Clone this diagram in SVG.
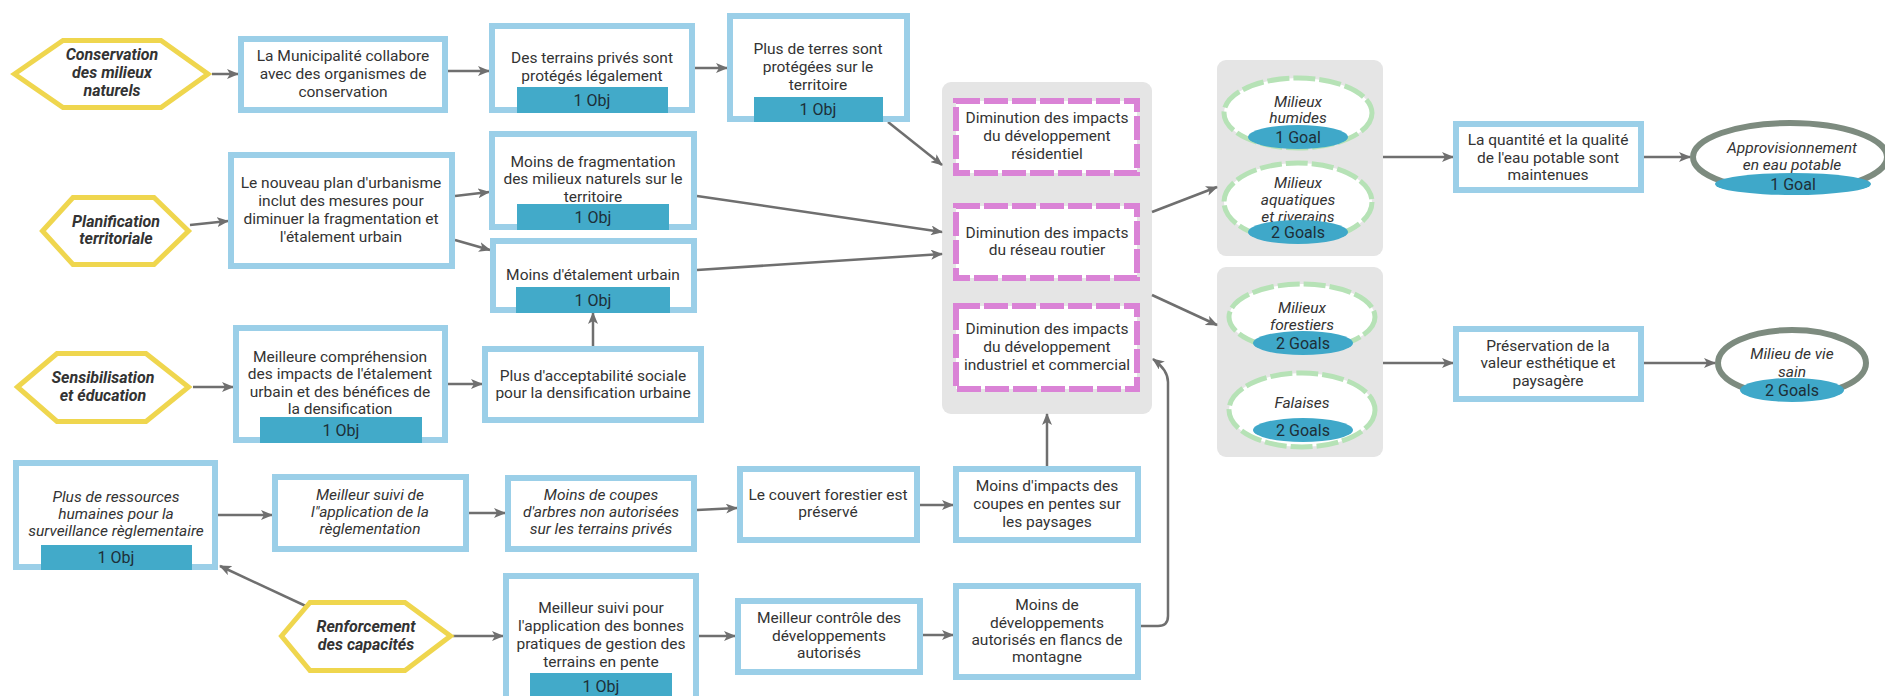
<svg xmlns="http://www.w3.org/2000/svg" width="1885" height="696" viewBox="0 0 1885 696">
<defs>
<marker id="ah" viewBox="0 0 12 10" refX="11" refY="5" markerWidth="12" markerHeight="10" markerUnits="userSpaceOnUse" orient="auto">
<path d="M0,0 L12,5 L0,10 L3,5 z" fill="#6f6f6f"/>
</marker>
<style>
text{font-family:Roboto,"Liberation Sans",sans-serif;font-size:15.5px;fill:#333;text-anchor:middle}
.it{font-style:italic}
.bi{font-style:italic;font-weight:bold;font-size:16px}
.box{fill:#fff;stroke:#9BCFE8;stroke-width:6}
.obj{fill:#42AAC9}
.hex{fill:#fff;stroke:#EFD64E;stroke-width:5}
.cont{fill:#E5E5E5}
.pink{fill:#fff;stroke:#DA83D6;stroke-width:6;stroke-dasharray:24 4}
.eco{fill:#fff;stroke:#B6E2B6;stroke-width:5;stroke-dasharray:22 4}
.goal{fill:#fff;stroke:#7D8B7F;stroke-width:6}
.gl{fill:#3FA8C9}
.lbl{fill:#1d2f38;font-size:16px}
.c{fill:none;stroke:#6f6f6f;stroke-width:2.5;marker-end:url(#ah)}
</style>
</defs>
<rect width="1885" height="696" fill="#fff"/>

<g id="containers">
<rect id="grp-pressures" class="cont" x="942" y="82" width="210" height="332" rx="9"/>
<rect id="grp-eau" class="cont" x="1217" y="60" width="166" height="196" rx="9"/>
<rect id="grp-paysage" class="cont" x="1217" y="267" width="166" height="190" rx="9"/>
</g>

<g id="connectors">
<path class="c" d="M212,74 L238,74"/>
<path class="c" d="M448,71 L489,71"/>
<path class="c" d="M695,68 L727,68"/>
<path class="c" d="M888,122 L942,165"/>
<path class="c" d="M190,225 L228,221"/>
<path class="c" d="M455,196 L489,192"/>
<path class="c" d="M455,240 L490,250"/>
<path class="c" d="M697,196 L942,232"/>
<path class="c" d="M697,270 L942,254"/>
<path class="c" d="M193,387 L233,387"/>
<path class="c" d="M448,384 L482,384"/>
<path class="c" d="M593,346 L593,313"/>
<path class="c" d="M218,515 L272,515"/>
<path class="c" d="M310,608 L220,566"/>
<path class="c" d="M469,513 L505,513"/>
<path class="c" d="M697,510 L737,508"/>
<path class="c" d="M920,505 L953,505"/>
<path class="c" d="M453,636 L503,636"/>
<path class="c" d="M699,636 L735,636"/>
<path class="c" d="M923,635 L953,635"/>
<path class="c" d="M1047,466 L1047,414"/>
<path class="c" d="M1141,626 H1158 Q1168,626 1168,616 V382 Q1168,370 1153,359"/>
<path class="c" d="M1152,212 L1217,187"/>
<path class="c" d="M1152,295 L1217,325"/>
<path class="c" d="M1383,157 L1453,157"/>
<path class="c" d="M1644,157 L1690,157"/>
<path class="c" d="M1383,363 L1453,363"/>
<path class="c" d="M1644,363 L1715,363"/>
</g>

<g id="h-conservation">
<polygon class="hex" points="14.5,74 63,40.5 161,40.5 208,74 161,107.5 63,107.5"/>
<text class="bi" x="112" y="60">Conservation</text>
<text class="bi" x="112" y="78">des milieux</text>
<text class="bi" x="112" y="96">naturels</text>
</g>
<g id="h-planification">
<polygon class="hex" points="42.5,231 73,197.5 154,197.5 188.5,231 154,264.5 73,264.5"/>
<text class="bi" x="116" y="227">Planification</text>
<text class="bi" x="116" y="244">territoriale</text>
</g>
<g id="h-sensibilisation">
<polygon class="hex" points="17.5,387 57,353.5 146,353.5 188.5,387 146,421.5 57,421.5"/>
<text class="bi" x="103" y="383">Sensibilisation</text>
<text class="bi" x="103" y="401">et éducation</text>
</g>
<g id="h-renforcement">
<polygon class="hex" points="281.5,636 310,602.5 405,602.5 450.5,636 405,670.5 310,670.5"/>
<text class="bi" x="366" y="632">Renforcement</text>
<text class="bi" x="366" y="650">des capacités</text>
</g>

<g id="b-municipalite">
<rect class="box" x="241" y="39" width="204" height="71"/>
<text x="343" y="61">La Municipalité collabore</text>
<text x="343" y="79">avec des organismes de</text>
<text x="343" y="97">conservation</text>
</g>
<g id="b-terrains">
<rect class="box" x="492" y="26" width="200" height="84"/>
<text x="592" y="63">Des terrains privés sont</text>
<text x="592" y="81">protégés légalement</text>
<rect class="obj" x="517" y="87" width="151" height="26"/>
<text class="lbl" x="592" y="106">1 Obj</text>
</g>
<g id="b-terres">
<rect class="box" x="730" y="16" width="177" height="103"/>
<text x="818" y="54">Plus de terres sont</text>
<text x="818" y="72">protégées sur le</text>
<text x="818" y="90">territoire</text>
<rect class="obj" x="754" y="97" width="129" height="25"/>
<text class="lbl" x="818" y="115">1 Obj</text>
</g>
<g id="b-plan">
<rect class="box" x="231" y="155" width="221" height="111"/>
<text x="341" y="188">Le nouveau plan d'urbanisme</text>
<text x="341" y="206">inclut des mesures pour</text>
<text x="341" y="224">diminuer la fragmentation et</text>
<text x="341" y="242">l'étalement urbain</text>
</g>
<g id="b-fragmentation">
<rect class="box" x="492" y="134" width="202" height="93"/>
<text x="593" y="167">Moins de fragmentation</text>
<text x="593" y="184">des milieux naturels sur le</text>
<text x="593" y="202">territoire</text>
<rect class="obj" x="517" y="204" width="152" height="26"/>
<text class="lbl" x="593" y="223">1 Obj</text>
</g>
<g id="b-etalement">
<rect class="box" x="493" y="241" width="201" height="69"/>
<text x="593" y="280">Moins d'étalement urbain</text>
<rect class="obj" x="516" y="287" width="154" height="26"/>
<text class="lbl" x="593" y="306">1 Obj</text>
</g>
<g id="b-comprehension">
<rect class="box" x="236" y="328" width="209" height="112"/>
<text x="340" y="362">Meilleure compréhension</text>
<text x="340" y="379">des impacts de l'étalement</text>
<text x="340" y="397">urbain et des bénéfices de</text>
<text x="340" y="414">la densification</text>
<rect class="obj" x="260" y="417" width="162" height="26"/>
<text class="lbl" x="341" y="436">1 Obj</text>
</g>
<g id="b-acceptabilite">
<rect class="box" x="485" y="349" width="216" height="71"/>
<text x="593" y="381">Plus d'acceptabilité sociale</text>
<text x="593" y="398">pour la densification urbaine</text>
</g>
<g id="b-ressources">
<rect class="box" x="16" y="463" width="199" height="104"/>
<text class="it" x="116" y="502">Plus de ressources</text>
<text class="it" x="116" y="519">humaines pour la</text>
<text class="it" x="116" y="536">surveillance règlementaire</text>
<rect class="obj" x="41" y="545" width="151" height="25"/>
<text class="lbl" x="116" y="563">1 Obj</text>
</g>
<g id="b-suivi-reglementation">
<rect class="box" x="275" y="477" width="191" height="72"/>
<text class="it" x="370" y="500">Meilleur suivi de</text>
<text class="it" x="370" y="517">l"application de la</text>
<text class="it" x="370" y="534">règlementation</text>
</g>
<g id="b-coupes">
<rect class="box" x="508" y="478" width="186" height="71"/>
<text class="it" x="601" y="500">Moins de coupes</text>
<text class="it" x="601" y="517">d'arbres non autorisées</text>
<text class="it" x="601" y="534">sur les terrains privés</text>
</g>
<g id="b-couvert">
<rect class="box" x="740" y="469" width="177" height="71"/>
<text x="828" y="500">Le couvert forestier est</text>
<text x="828" y="517">préservé</text>
</g>
<g id="b-impacts-coupes">
<rect class="box" x="956" y="469" width="182" height="71"/>
<text x="1047" y="491">Moins d'impacts des</text>
<text x="1047" y="509">coupes en pentes sur</text>
<text x="1047" y="527">les paysages</text>
</g>
<g id="b-bonnes-pratiques">
<rect class="box" x="506" y="576" width="190" height="126"/>
<text x="601" y="613">Meilleur suivi pour</text>
<text x="601" y="631">l'application des bonnes</text>
<text x="601" y="649">pratiques de gestion des</text>
<text x="601" y="667">terrains en pente</text>
<rect class="obj" x="530" y="673" width="142" height="26"/>
<text class="lbl" x="601" y="692">1 Obj</text>
</g>
<g id="b-controle">
<rect class="box" x="738" y="601" width="182" height="71"/>
<text x="829" y="623">Meilleur contrôle des</text>
<text x="829" y="641">développements</text>
<text x="829" y="658">autorisés</text>
</g>
<g id="b-developpements">
<rect class="box" x="956" y="586" width="182" height="91"/>
<text x="1047" y="610">Moins de</text>
<text x="1047" y="628">développements</text>
<text x="1047" y="645">autorisés en flancs de</text>
<text x="1047" y="662">montagne</text>
</g>

<g id="p-residentiel">
<rect class="pink" x="956" y="101" width="181" height="72"/>
<text x="1047" y="123">Diminution des impacts</text>
<text x="1047" y="141">du développement</text>
<text x="1047" y="159">résidentiel</text>
</g>
<g id="p-routier">
<rect class="pink" x="956" y="206" width="181" height="72"/>
<text x="1047" y="238">Diminution des impacts</text>
<text x="1047" y="255">du réseau routier</text>
</g>
<g id="p-industriel">
<rect class="pink" x="956" y="306" width="181" height="83"/>
<text x="1047" y="334">Diminution des impacts</text>
<text x="1047" y="352">du développement</text>
<text x="1047" y="370">industriel et commercial</text>
</g>

<g id="e-humides">
<ellipse class="eco" cx="1298" cy="113" rx="74" ry="35"/>
<text class="it" x="1298" y="107">Milieux</text>
<text class="it" x="1298" y="123">humides</text>
<ellipse class="gl" cx="1298" cy="137" rx="50" ry="12"/>
<text class="lbl" x="1298" y="143">1 Goal</text>
</g>
<g id="e-aquatiques">
<ellipse class="eco" cx="1298" cy="202" rx="74" ry="39"/>
<text class="it" x="1298" y="188">Milieux</text>
<text class="it" x="1298" y="205">aquatiques</text>
<text class="it" x="1298" y="222">et riverains</text>
<ellipse class="gl" cx="1298" cy="232" rx="50" ry="12"/>
<text class="lbl" x="1298" y="238">2 Goals</text>
</g>
<g id="e-forestiers">
<ellipse class="eco" cx="1302" cy="317" rx="73" ry="33"/>
<text class="it" x="1302" y="313">Milieux</text>
<text class="it" x="1302" y="330">forestiers</text>
<ellipse class="gl" cx="1303" cy="343" rx="50" ry="12"/>
<text class="lbl" x="1303" y="349">2 Goals</text>
</g>
<g id="e-falaises">
<ellipse class="eco" cx="1302" cy="410" rx="73" ry="37"/>
<text class="it" x="1302" y="408">Falaises</text>
<ellipse class="gl" cx="1303" cy="430" rx="50" ry="12"/>
<text class="lbl" x="1303" y="436">2 Goals</text>
</g>

<g id="b-eau">
<rect class="box" x="1456" y="124" width="185" height="66"/>
<text x="1548" y="145">La quantité et la qualité</text>
<text x="1548" y="163">de l'eau potable sont</text>
<text x="1548" y="180">maintenues</text>
</g>
<g id="b-preservation">
<rect class="box" x="1456" y="329" width="185" height="70"/>
<text x="1548" y="351">Préservation de la</text>
<text x="1548" y="368">valeur esthétique et</text>
<text x="1548" y="386">paysagère</text>
</g>

<g id="g-approvisionnement">
<ellipse class="goal" cx="1790" cy="157" rx="97" ry="34"/>
<text class="it" x="1792" y="153">Approvisionnement</text>
<text class="it" x="1792" y="170">en eau potable</text>
<ellipse class="gl" cx="1793" cy="184" rx="78" ry="11"/>
<text class="lbl" x="1793" y="190">1 Goal</text>
</g>
<g id="g-milieu-vie">
<ellipse class="goal" cx="1792" cy="363" rx="74" ry="33"/>
<text class="it" x="1792" y="359">Milieu de vie</text>
<text class="it" x="1792" y="377">sain</text>
<ellipse class="gl" cx="1792" cy="390" rx="52" ry="12"/>
<text class="lbl" x="1792" y="396">2 Goals</text>
</g>
</svg>
